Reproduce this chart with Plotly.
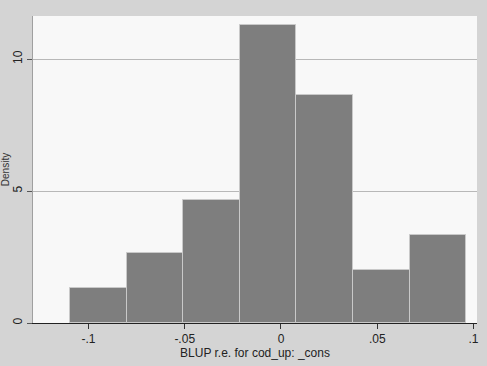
import plotly.graph_objects as go

# Histogram data
bin_edges = [-0.1096, -0.0802, -0.0508, -0.0214, 0.0080, 0.0374, 0.0668, 0.0962]
density = [1.33, 2.66, 4.66, 11.3, 8.65, 2.0, 3.33]

x_tick_vals = [-0.1, -0.05, 0, 0.05, 0.1]
x_tick_text = ["-.1", "-.05", "0", ".05", ".1"]
y_tick_vals = [0, 5, 10]
y_tick_text = ["0", "5", "10"]

centers = [(a + b) / 2 for a, b in zip(bin_edges[:-1], bin_edges[1:])]
widths = [b - a for a, b in zip(bin_edges[:-1], bin_edges[1:])]

fig = go.Figure(
    go.Bar(
        x=centers,
        y=density,
        width=widths,
        marker=dict(color="#7e7e7e", line=dict(color="#c9c9c9", width=1)),
        showlegend=False,
    )
)

font = dict(family="Liberation Sans, Arial, sans-serif", size=12, color="#222222")

fig.update_layout(
    width=487,
    height=366,
    margin=dict(l=33, r=10, t=16, b=43, autoexpand=False),
    paper_bgcolor="#d4d4d4",
    plot_bgcolor="#f8f8f8",
    font=font,
    bargap=0,
)

fig.update_xaxes(
    range=[-0.1288, 0.1018],
    tickvals=x_tick_vals,
    ticktext=x_tick_text,
    ticks="outside",
    ticklen=5,
    tickcolor="#333333",
    showline=True,
    linecolor="#222222",
    linewidth=1,
    showgrid=False,
    zeroline=False,
    automargin=False,
    title=dict(text="BLUP r.e. for cod_up: _cons", standoff=0, font=font),
    tickfont=font,
)

fig.update_yaxes(
    range=[0, 11.63],
    tickvals=y_tick_vals,
    ticktext=y_tick_text,
    tickangle=-90,
    ticks="outside",
    ticklen=5,
    tickcolor="#555555",
    showline=True,
    linecolor="#a0a0a0",
    linewidth=1,
    showgrid=True,
    gridcolor="#b8b8b8",
    gridwidth=1,
    zeroline=False,
    automargin=False,
    title=dict(text="Density", standoff=4, font=dict(family=font["family"], size=10, color="#333333")),
    tickfont=font,
)

fig.write_html(
    "out.html",
    config={"displayModeBar": False},
    post_script="document.body.style.margin='0';document.body.style.background='#d4d4d4';",
)
